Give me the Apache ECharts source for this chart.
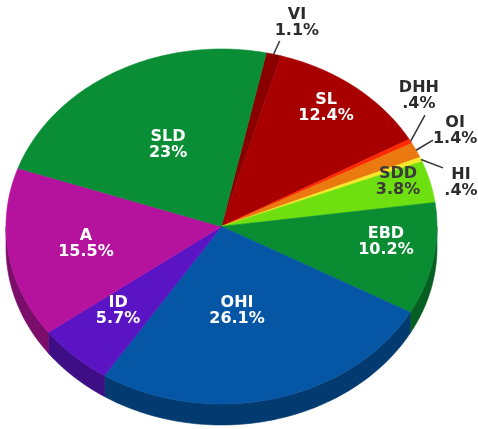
<!DOCTYPE html>
<html>
<head>
<meta charset="utf-8">
<script src="https://cdn.jsdelivr.net/npm/echarts@6/dist/echarts.min.js"></script>
<style>
  html, body { margin: 0; padding: 0; background: #fff; }
  #main { width: 478px; height: 429px; }
</style>
</head>
<body>
<div id="main"></div>
<script>
// slices, clockwise from the top
var categories = ['VI', 'SL', 'DHH', 'OI', 'HI', 'SDD', 'EBD', 'OHI', 'ID', 'A', 'SLD'];
var shares = [1.1, 12.4, 0.4, 1.4, 0.4, 3.8, 10.2, 26.1, 5.7, 15.5, 23];

var colors = ['#8a0000', '#a80000', '#ff2a00', '#ea7a10', '#f7e82a', '#6ee010',
              '#0a8c32', '#0557a6', '#5a14c4', '#b5139e', '#0a8e35'];

// label anchors as fractions of the ellipse radii (x right, y up)
var labelPos = {
  SLD: {fx: -0.248, fy: 0.459},
  SL: {fx: 0.485, fy: 0.668},
  SDD: {fx: 0.819, fy: 0.251, color: '#3a3a3a'},
  EBD: {fx: 0.763, fy: -0.087},
  OHI: {fx: 0.072, fy: -0.476},
  ID: {fx: -0.48, fy: -0.476},
  A: {fx: -0.629, fy: -0.099},
  VI: {fx: 0.35, fy: 1.146, lx: 0.27, ly: 1.045, out: true},
  DHH: {fx: 0.916, fy: 0.735, lx: 0.944, ly: 0.628, out: true},
  OI: {fx: 1.084, fy: 0.538, lx: 0.981, ly: 0.487, out: true},
  HI: {fx: 1.111, fy: 0.245, lx: 1.028, ly: 0.33, out: true}
};

var CX = 221.5, CY = 226.5, RX = 215.5, RY = 177.5, DEPTH = 21, START = 78;
var RAD = Math.PI / 180;

var total = shares.reduce(function (s, v) { return s + v; }, 0);
var cum = [0];
shares.forEach(function (v, i) { cum.push(cum[i] + v); });

function pct(v) {
  return String(v).replace(/^0\./, '.') + '%';
}

function darken(hex, k) {
  var c = echarts.color.parse(hex);
  return 'rgb(' + Math.round(c[0] * k) + ',' + Math.round(c[1] * k) + ',' + Math.round(c[2] * k) + ')';
}

function pt(t, dy) {
  return [CX + RX * Math.cos(t * RAD), CY - RY * Math.sin(t * RAD) + (dy || 0)];
}

// points along the rim from angle a to angle b (degrees)
function arc(a, b, dy) {
  var out = [];
  var n = Math.max(2, Math.ceil(Math.abs(a - b)));
  for (var j = 0; j <= n; j++) {
    out.push(pt(a + (b - a) * j / n, dy));
  }
  return out;
}

function renderItem(params, api) {
  var i = params.dataIndex;
  var a0 = START - 360 * cum[i] / total;
  var a1 = START - 360 * cum[i + 1] / total;
  var col = colors[i];
  var children = [];

  // front wall, only where the rim faces the viewer
  [0, -360].forEach(function (k) {
    var hi = Math.min(a0, k), lo = Math.max(a1, k - 180);
    if (hi > lo) {
      var w = arc(hi, lo, 0).concat(arc(lo, hi, DEPTH));
      var wc = darken(col, 0.68);
      children.push({
        type: 'polygon', shape: {points: w}, z2: 1,
        style: {fill: wc, stroke: wc, lineWidth: 0.6}
      });
    }
  });

  // top face
  var top = [[CX, CY]].concat(arc(a0, a1, 0));
  children.push({
    type: 'polygon', shape: {points: top}, z2: 2,
    style: {fill: col, stroke: col, lineWidth: 0.6}
  });

  // label
  var name = categories[i];
  var lp = labelPos[name];
  var tx = CX + RX * lp.fx, ty = CY - RY * lp.fy;
  if (lp.out) {
    var mid = (a0 + a1) / 2;
    var s = pt(mid, 0);
    children.push({
      type: 'line', z2: 5,
      shape: {x1: s[0], y1: s[1], x2: CX + RX * lp.lx, y2: CY - RY * lp.ly},
      style: {stroke: '#333', lineWidth: 1.5}
    });
  }
  children.push({
    type: 'text', z2: 10,
    style: {
      text: name + '\n' + pct(api.value(0)),
      x: tx, y: ty,
      align: 'center', verticalAlign: 'middle',
      fill: lp.out ? '#2b2b2b' : (lp.color || '#ffffff'),
      font: 'bold 16px "DejaVu Sans", sans-serif',
      lineHeight: 16
    }
  });

  return {type: 'group', children: children};
}

var chart = echarts.init(document.getElementById('main'));
chart.setOption({
  animation: false,
  backgroundColor: '#ffffff',
  series: [{
    type: 'custom',
    coordinateSystem: 'none',
    renderItem: renderItem,
    data: shares.map(function (v, i) { return {value: [v], name: categories[i]}; })
  }]
});
</script>
</body>
</html>
